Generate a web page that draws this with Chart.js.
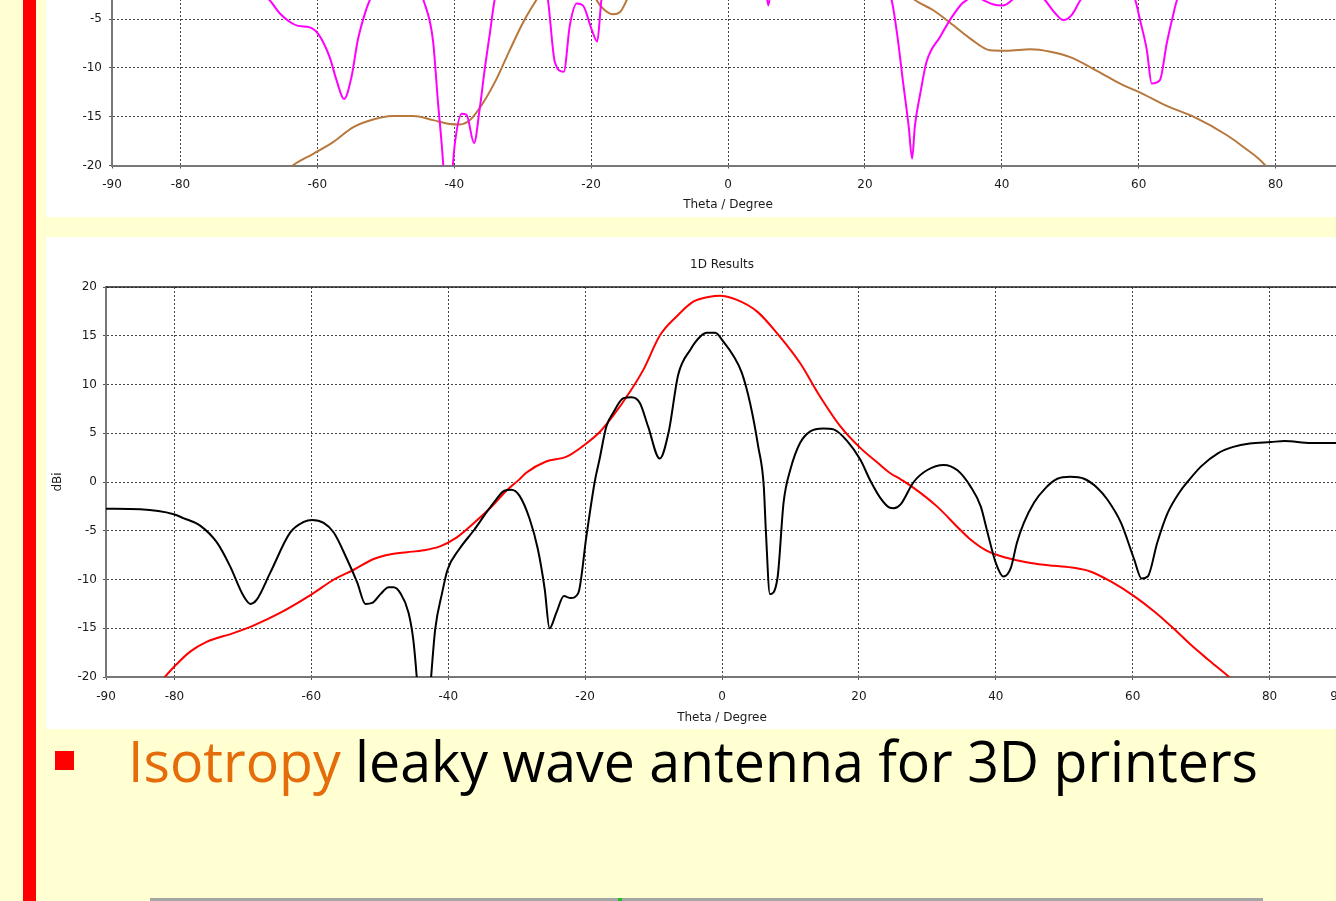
<!DOCTYPE html>
<html lang="en">
<head>
<meta charset="UTF-8">
<title>1D Results</title>
<script src="https://cdn.jsdelivr.net/npm/chart.js@4.4.0/dist/chart.umd.min.js"></script>
<style>
  html, body { margin: 0; padding: 0; }
  body { width: 1336px; height: 901px; overflow: hidden; position: relative; background: #FFFFD1; }
  .redbar { position: absolute; left: 23px; top: 0; width: 13px; height: 901px; background: #FF0000; }
  .panel { position: absolute; background: #fff; overflow: hidden; }
  #topPanel { left: 46px; top: 0; width: 1290px; height: 217px; }
  #botPanel { left: 46px; top: 237px; width: 1290px; height: 492px; }
  #topChart { position: absolute; left: 0; top: -290px; }
  #botChart { position: absolute; left: 0; top: 0; }
  .bullet { position: absolute; left: 55px; top: 751px; width: 19px; height: 19px; background: #FF0000; }
  .caption { position: absolute; left: 128px; top: 732px; font-family: "Open Sans", "Noto Sans", sans-serif; font-size: 57px; line-height: 1; white-space: nowrap; color: #000; transform-origin: left top; }
  .caption .hl { color: #E46C0A; }
  .baseline { position: absolute; left: 150px; top: 898px; width: 1113px; height: 3px; background: #A6A6A6; }
  .dot { position: absolute; left: 618px; top: 898px; width: 4px; height: 3px; background: #22C022; }
</style>
</head>
<body>
  <div class="redbar"></div>
  <div class="panel" id="topPanel"><canvas id="topChart" width="1350" height="507"></canvas></div>
  <div class="panel" id="botPanel"><canvas id="botChart" width="1350" height="492"></canvas></div>
  <div class="bullet"></div>
  <div class="caption" id="caption"><span class="hl">Isotropy</span> leaky wave antenna for 3D printers</div>
  <div class="baseline"></div>
  <div class="dot"></div>
<script>
  // x ticks (Theta / Degree) and y ticks (dBi)
  const xTicks = [-90, -80, -60, -40, -20, 0, 20, 40, 60, 80, 90]
  const yTicks = [-20, -15, -10, -5, 0, 5, 10, 15, 20]

  // --- lower plot (1D Results) ---
  const blackTheta = [-90, -85, -80.1, -78.7, -76.2, -73.8, -71.9, -69.9, -68.9, -68, -66, -63.1, -61.1, -59.9, -58.2, -56.7, -54.8, -53.3, -52.1, -51.1, -49.9, -48.7, -48, -47, -45.8, -45.1, -44.6, -43.6, -42.5, -41.9, -40.9, -40.1, -38.4, -36.2, -34.5, -33, -31.8, -30.8, -29.6, -28.1, -26.9, -25.9, -25.2, -24.2, -23.1, -22.1, -21, -19.8, -18.6, -17.9, -16.9, -15.9, -14.4, -13.2, -12, -10.8, -9.1, -7.8, -6.4, -4.6, -3.2, -2.2, -1, 0.2, 1.7, 2.9, 4.1, 5.3, 6.1, 6.4, 7, 8.1, 9, 10, 11.4, 12.9, 14.8, 16.3, 18.3, 20.2, 21.7, 23.1, 24.4, 25.1, 26.1, 28, 30, 32.4, 34.4, 36.3, 37.8, 38.8, 40, 41.1, 42.2, 43.1, 44.1, 45.6, 47.3, 49, 50.9, 52.9, 54.8, 56.3, 58.3, 60.2, 61.3, 62.2, 63.6, 65.1, 67, 68, 70, 72.5, 74.7, 77.1, 80.2, 82.2, 86, 90]
  const blackGain = [-2.74, -2.8, -3.3, -3.7, -4.5, -6.2, -8.6, -11.7, -12.5, -12.1, -9.3, -5.2, -4.1, -3.9, -4.2, -5.2, -7.9, -10.3, -12.5, -12.4, -11.5, -10.8, -10.8, -11.4, -13.4, -16.2, -20, -30, -20, -15.1, -11.4, -9, -6.9, -4.9, -3.2, -1.8, -0.9, -0.8, -1.4, -3.8, -6.9, -11, -15, -13.4, -11.7, -11.9, -11.4, -5.5, 0, 2.3, 5.7, 7.1, 8.6, 8.7, 8.1, 5.7, 2.4, 5.1, 11, 13.6, 14.9, 15.3, 15.3, 14.4, 12.9, 11.2, 8.1, 3.6, -0.4, -4.9, -11.5, -9.9, -2.1, 1.3, 4, 5.2, 5.5, 5.4, 4.2, 2.3, 0.1, -1.6, -2.6, -2.7, -2.3, 0, 1.23, 1.75, 1.2, -0.45, -2.5, -5.2, -8.3, -9.7, -8.8, -6.2, -4.2, -2.1, -0.6, 0.33, 0.53, 0.33, -0.58, -1.8, -4.2, -7.9, -9.9, -9.7, -6.2, -3.2, -0.9, 0, 1.6, 2.97, 3.6, 3.95, 4.1, 4.2, 4.0, 4.0]

  const redTheta = [-90, -85, -81.4, -79.7, -77.7, -75.3, -71.4, -68.4, -64.5, -59.9, -56.7, -53.8, -50.9, -48.4, -46, -43.6, -41.2, -38.8, -36.4, -33.9, -31.5, -29.6, -28.6, -25.7, -22.7, -20.3, -17.9, -15.9, -13.5, -11.5, -9.1, -6.6, -4.2, -1.8, -0.3, 2.1, 5.1, 8, 11.4, 14.3, 17.3, 20.2, 22.7, 24.6, 26.1, 28, 31.4, 34.8, 36.3, 38.8, 41.7, 45.1, 48.5, 51.4, 53.9, 56.8, 60.2, 63.2, 66.1, 68.5, 71, 74.1, 80, 90]
  const redGain = [-26, -23, -20, -18.7, -17.4, -16.4, -15.5, -14.7, -13.4, -11.5, -10, -9, -7.9, -7.4, -7.2, -7, -6.6, -5.7, -4.3, -2.7, -0.9, 0.27, 0.95, 2.1, 2.6, 3.7, 5.1, 6.8, 9.2, 11.5, 15, 17, 18.5, 19, 19.1, 18.7, 17.5, 15.3, 12.2, 8.8, 5.7, 3.5, 2, 0.9, 0.27, -0.6, -2.5, -4.9, -5.9, -7.1, -7.8, -8.3, -8.6, -8.8, -9.2, -10.2, -11.7, -13.3, -15.1, -16.7, -18.2, -20, -24, -30]

  // --- upper plot (only its lower part is on the slide) ---
  const magentaTheta = [-90, -80, -70, -67, -65.5, -64, -62.8, -61.1, -59.9, -58.2, -57.2, -56.1, -55, -54.1, -52.9, -52.3, -50, -48, -46, -44.5, -43.1, -42.4, -41.6, -41, -40.2, -39.9, -38.9, -38.2, -37.1, -36.3, -35.5, -34.8, -34.1, -32, -29, -27.5, -26.3, -25.3, -24, -23.1, -22.1, -21.2, -19.9, -19.1, -18.5, -16, -12, -6, 0, 4, 5.4, 5.9, 6.4, 8, 12, 16, 20, 23.9, 24.7, 25.6, 26.4, 26.9, 27.3, 28.1, 29, 31, 32.7, 34.2, 34.9, 36, 37.3, 38.8, 40.2, 41.5, 44, 46.3, 47.8, 49, 50.2, 51.5, 55, 58, 59.5, 60.2, 61.2, 61.9, 63.1, 64.1, 65.1, 65.6, 70, 80, 90]
  const magentaGain = [2, 1, -1.5, -3.05, -4.4, -5.3, -5.7, -5.85, -6.5, -8.9, -11.25, -13.2, -10.9, -7.2, -4.1, -3, 0, 1, -0.5, -3.05, -7.2, -13.3, -20, -28, -20, -17.7, -14.7, -14.8, -17.7, -14.3, -9.9, -6.5, -3.05, 2, 4, 1, -3.05, -9.4, -10.4, -5.6, -3.4, -3.6, -6.1, -7.3, -3.05, 4, 9, 14, 16, 8, -1, -3.6, -1, 6, 8, 5, 1, -3.05, -6.5, -11.6, -16, -19.3, -16, -12.6, -9.4, -6.8, -4.8, -3.4, -3.05, -2.5, -3.05, -3.5, -3.6, -3.05, -1.5, -3.05, -4.4, -5.1, -4.6, -3.05, 0, -1.5, -3.05, -5.1, -8.2, -11.6, -11.25, -7.5, -4.4, -3.05, 0, 2, 2]

  const brownTheta = [-90, -70, -63.6, -60.6, -57.7, -54.8, -52.8, -48.9, -46, -43.1, -40.6, -39.2, -37.7, -35.8, -33.8, -31.9, -29.9, -28, -25, -22, -20, -19.2, -18, -16.8, -15.8, -14.8, -12, -8, -4, 0, 5, 10, 15, 20, 24, 27.3, 30, 32.5, 35.4, 38.3, 40.7, 44.2, 47.1, 50, 53.9, 57.8, 60, 64.1, 68, 72.9, 75.3, 78.5, 82, 90]
  const brownGain = [-30, -24, -20, -18.8, -17.6, -16.1, -15.5, -14.94, -14.94, -15.35, -15.75, -15.8, -15.35, -13.6, -11.1, -8.2, -5.3, -3.05, 0, 0.5, -1.5, -3.05, -4.1, -4.5, -4.3, -3.05, 2, 8, 12, 14, 13, 10, 6, 2, -1, -3.05, -4.1, -5.4, -7, -8.2, -8.25, -8.1, -8.35, -8.9, -10.3, -11.8, -12.45, -13.9, -15, -16.9, -18.1, -20, -24, -30]

  const pts = (xs, ys) => xs.map((x, i) => ({ x, y: ys[i] }))

  const FONT = '"DejaVu Sans", Verdana, sans-serif'
  const TXT = '#1a1a1a'

  // solid frame line along the top of the plot area
  const topFrame = {
    id: 'topFrame',
    afterDraw(chart) {
      const { ctx, chartArea } = chart
      ctx.save()
      ctx.strokeStyle = '#222'
      ctx.lineWidth = 1.5
      ctx.beginPath()
      ctx.moveTo(chartArea.left, chartArea.top)
      ctx.lineTo(chartArea.right, chartArea.top)
      ctx.stroke()
      ctx.restore()
    }
  }

  function line(label, xs, ys, color) {
    return {
      label,
      data: pts(xs, ys),
      borderColor: color,
      backgroundColor: color,
      borderWidth: 2,
      pointRadius: 0,
      cubicInterpolationMode: 'monotone',
      fill: false
    }
  }

  function makeOptions(o) {
    return {
      responsive: false,
      animation: false,
      layout: { padding: o.padding },
      plugins: {
        legend: { display: false },
        tooltip: { enabled: false },
        title: o.title ? {
          display: true,
          text: o.title,
          fullSize: false,
          color: TXT,
          font: { family: FONT, size: 12, weight: 'normal' },
          padding: { top: 21, bottom: 14.6 }
        } : { display: false }
      },
      scales: {
        x: {
          type: 'linear',
          min: -90,
          max: 90,
          afterBuildTicks: s => { s.ticks = xTicks.map(v => ({ value: v })) },
          afterFit: s => { s.height = o.xHeight },
          ticks: { color: TXT, font: { family: FONT, size: 12 }, padding: o.xPad, maxRotation: 0, autoSkip: false },
          grid: { color: '#444', lineWidth: 1, tickLength: 3, tickColor: '#555', tickBorderDash: [] },
          border: { color: '#777', width: 2, dash: [2, 2] },
          title: { display: true, text: 'Theta / Degree', color: TXT, font: { family: FONT, size: 12 }, padding: { top: 0, bottom: o.titlePad } }
        },
        y: {
          type: 'linear',
          min: -20,
          max: 20,
          afterBuildTicks: s => { s.ticks = yTicks.map(v => ({ value: v })) },
          afterFit: s => { s.width = o.yWidth },
          ticks: { color: TXT, font: { family: FONT, size: 12 }, padding: o.yPad },
          grid: { color: '#444', lineWidth: 1, tickLength: 3, tickColor: '#555', tickBorderDash: [] },
          border: { color: '#777', width: 2, dash: [2, 2] },
          title: { display: true, text: 'dBi', color: TXT, font: { family: FONT, size: 12 }, padding: { top: 5, bottom: 0 } }
        }
      }
    }
  }

  new Chart(document.getElementById('topChart'), {
    type: 'line',
    data: {
      datasets: [
        line('magenta', magentaTheta, magentaGain, '#FF00FF'),
        line('brown', brownTheta, brownGain, '#B8773C')
      ]
    },
    options: makeOptions({ padding: { left: 0, top: 65, right: 52, bottom: 0 }, xHeight: 51.5, xPad: 9, titlePad: 4.8, yWidth: 66, yPad: 7 }),
    plugins: [topFrame]
  })

  new Chart(document.getElementById('botChart'), {
    type: 'line',
    data: {
      datasets: [
        line('black', blackTheta, blackGain, '#000000'),
        line('red', redTheta, redGain, '#FF0000')
      ]
    },
    options: makeOptions({ title: '1D Results', padding: { left: 0, top: 0, right: 58, bottom: 0 }, xHeight: 52, xPad: 9.5, titlePad: 4.3, yWidth: 60, yPad: 6 }),
    plugins: [topFrame]
  })

  // squeeze caption to the width it has on the slide
  const cap = document.getElementById('caption')
  const w = cap.getBoundingClientRect().width
  cap.style.transform = 'scaleX(' + (1130 / w) + ')'
</script>
</body>
</html>
